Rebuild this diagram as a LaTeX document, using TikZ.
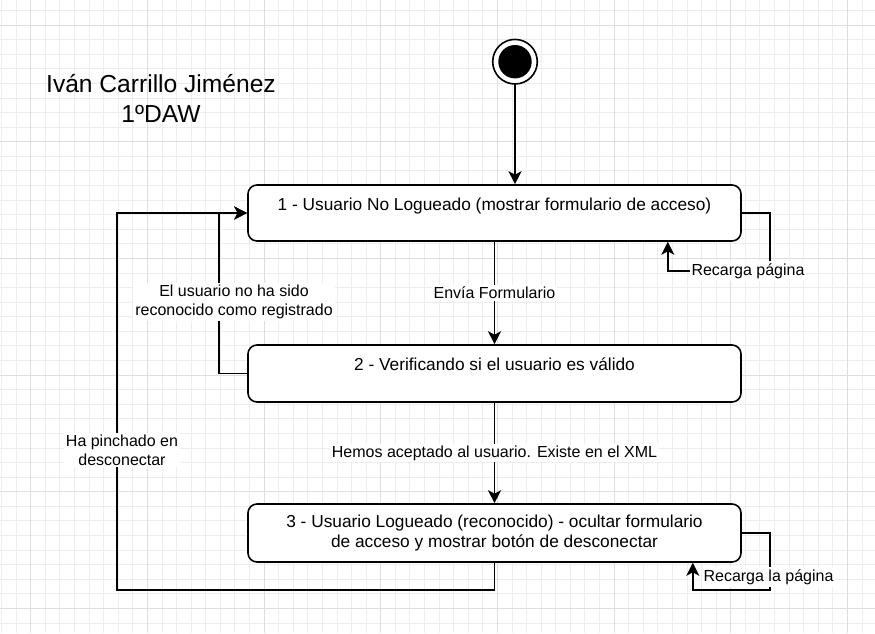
\documentclass[tikz,border=0pt]{standalone}
\usepackage{fontspec}
\setmainfont{Liberation Sans}
\usetikzlibrary{arrows.meta,calc}
\begin{document}
\begin{tikzpicture}[x=1pt,y=-1pt,
  gminor/.style={draw=black!7, line width=0.8pt},
  gmajor/.style={draw=black!13, line width=0.8pt},
  statebox/.style={draw, line width=1.6pt, rounded corners=9pt, fill=white, minimum width=493pt, inner sep=0pt},
  conn/.style={line width=1.6pt, -{Stealth[length=13pt,width=13pt,inset=3.5pt]}},
  lbl/.style={fill=white, inner sep=2pt, font=\fontsize{16}{19}\selectfont, align=center},
  boxtext/.style={font=\fontsize{17.3}{20}\selectfont, align=center}
]
\useasboundingbox (0,0) rectangle (875,633);
\fill[white] (0,0) rectangle (875,633);
\begin{scope}
\clip (0,0) rectangle (875,633);
\foreach \k in {0,...,60} { \draw[gminor] ({1.54+14.583*\k},0) -- ({1.54+14.583*\k},633); }
\foreach \k in {0,...,44} { \draw[gminor] (0,{10.42+14.583*\k}) -- (875,{10.42+14.583*\k}); }
\foreach \k in {0,...,7} { \draw[gmajor] ({30.7+116.67*\k},0) -- ({30.7+116.67*\k},633); }
\foreach \k in {0,...,5} { \draw[gmajor] (0,{25+116.67*\k}) -- (875,{25+116.67*\k}); }
\end{scope}

\node[font=\fontsize{24.6}{30}\selectfont, align=center] (title) at (161,98) {Iván Carrillo Jiménez\\1ºDAW};

\node[circle, draw, line width=1.6pt, fill=white, minimum size=44.6pt, inner sep=0pt] (init) at (515,61.7) {};
\node[circle, fill=black, minimum size=33.4pt, inner sep=0pt] (initdot) at (init) {};

\node[statebox, minimum height=56pt, label={[boxtext, yshift=7pt]center:1 - Usuario No Logueado (mostrar formulario de acceso)}] (s1) at (494.5,213) {};
\node[statebox, minimum height=57pt, label={[boxtext, yshift=9.5pt]center:2 - Verificando si el usuario es válido}] (s2) at (494.5,373.5) {};
\node[statebox, minimum height=58pt, boxtext] (s3) at (494.5,533) {3 - Usuario Logueado (reconocido) - ocultar formulario\\de acceso y mostrar botón de desconectar};

\coordinate (l1) at (770,271);
\coordinate (l2) at (219,293);
\coordinate (l3) at (117,590);
\coordinate (l4) at (770,590);

\draw[conn] (init) -- (init |- s1.north);
\draw[conn] (s1) -- (s2);
\draw[conn] (s2) -- (s3);
\draw[conn] (s1.east) -| (l1) -| ([xshift=-74pt]s1.south east);
\draw[conn] (s2.west) -| (l2) |- (s1.west);
\draw[conn] (s3.south) |- (l3) |- (s1.west);
\draw[conn] (s3.east) -| (l4) -| ([xshift=-49pt]s3.south east);

\node[lbl] (lab1) at ($(s1.south)!0.5!(s2.north)$) {Envía Formulario};
\node[lbl] (lab2) at ($(s2.south)!0.5!(s3.north)$) {Hemos aceptado al usuario. Existe en el XML};
\node[lbl] (lab3) at (748,271) {Recarga página};
\node[lbl] (lab4) at (234,302) {El usuario no ha sido\\reconocido como registrado};
\node[lbl] (lab5) at (122,450) {Ha pinchado en\\desconectar};
\node[lbl] (lab6) at (768.5,577) {Recarga la página};
\end{tikzpicture}
\end{document}
